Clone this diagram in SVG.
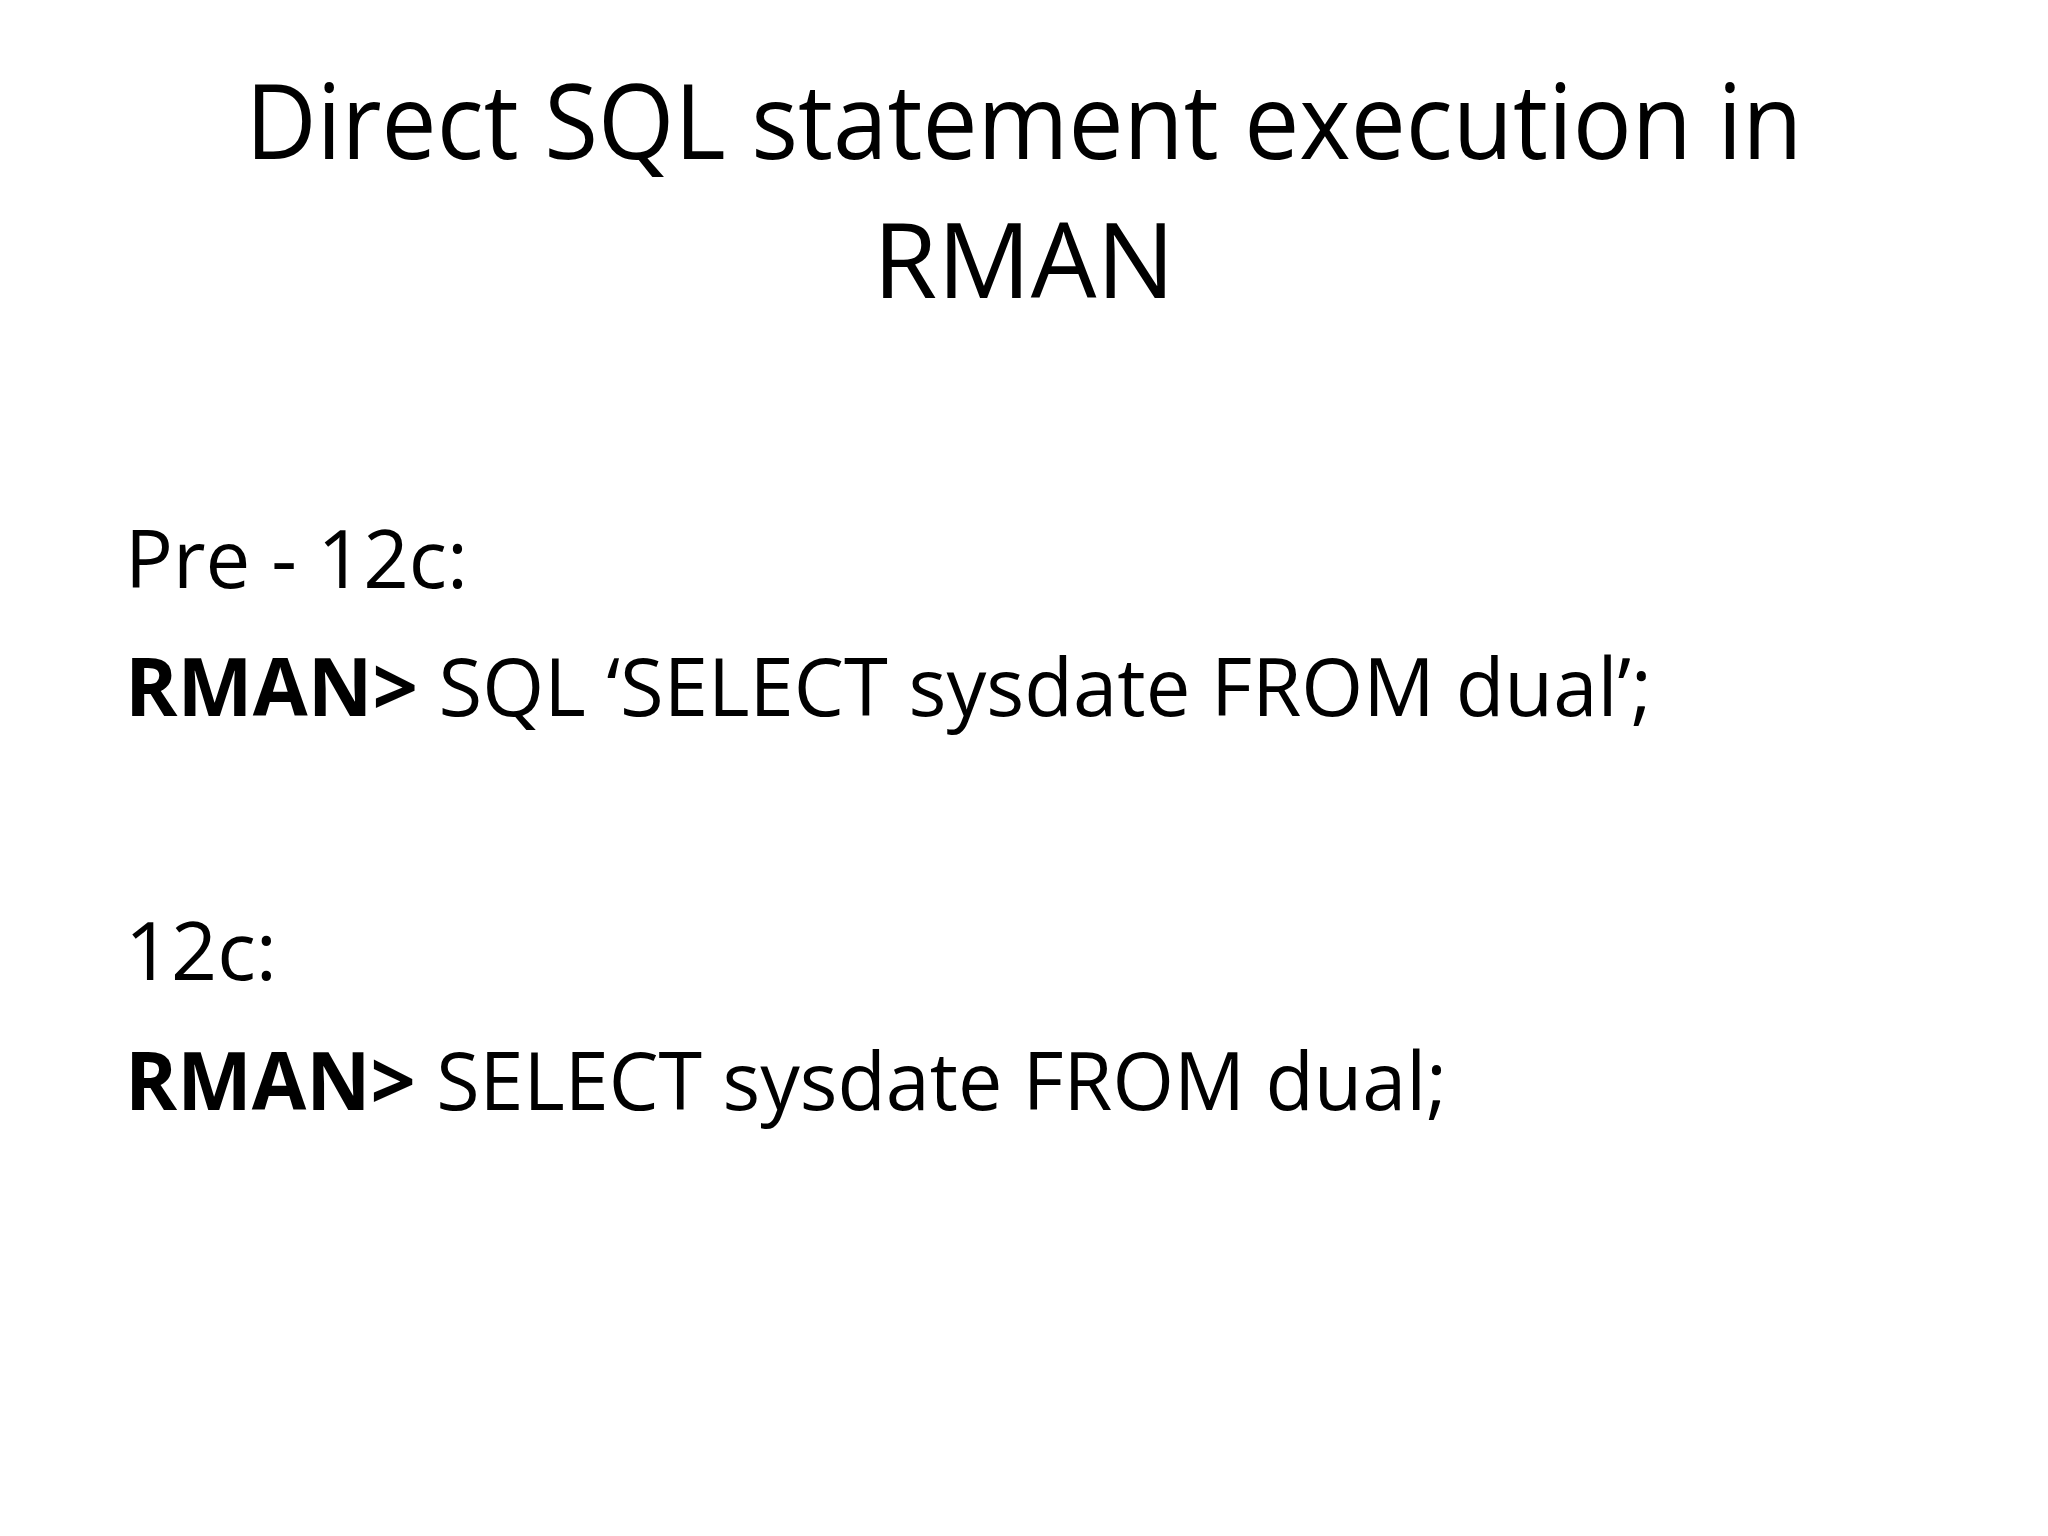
<svg xmlns="http://www.w3.org/2000/svg" width="2048" height="1536" viewBox="0 0 2048 1536">
<style>
text{font-family:"Open Sans","Liberation Sans",sans-serif;fill:#000}
.t{font-size:104px}
.b{font-size:80px}
.bold{font-weight:bold}
</style>
<rect width="2048" height="1536" fill="#fff"/>
<g id="title">
<text class="t" x="1024" y="159" text-anchor="middle" textLength="1557" lengthAdjust="spacingAndGlyphs">Direct SQL statement execution in</text>
<text class="t" x="1024" y="298" text-anchor="middle">RMAN</text>
</g>
<g id="body">
<text class="b" x="125" y="588" textLength="343" lengthAdjust="spacingAndGlyphs">Pre - 12c:</text>
<text class="b" x="125" y="716" textLength="1527" lengthAdjust="spacingAndGlyphs"><tspan class="bold">RMAN&gt;</tspan> SQL ‘SELECT sysdate FROM dual’;</text>
<text class="b" x="125" y="980" textLength="152" lengthAdjust="spacingAndGlyphs">12c:</text>
<text class="b" x="125" y="1110" textLength="1322" lengthAdjust="spacingAndGlyphs"><tspan class="bold">RMAN&gt;</tspan> SELECT sysdate FROM dual;</text>
</g>
</svg>
